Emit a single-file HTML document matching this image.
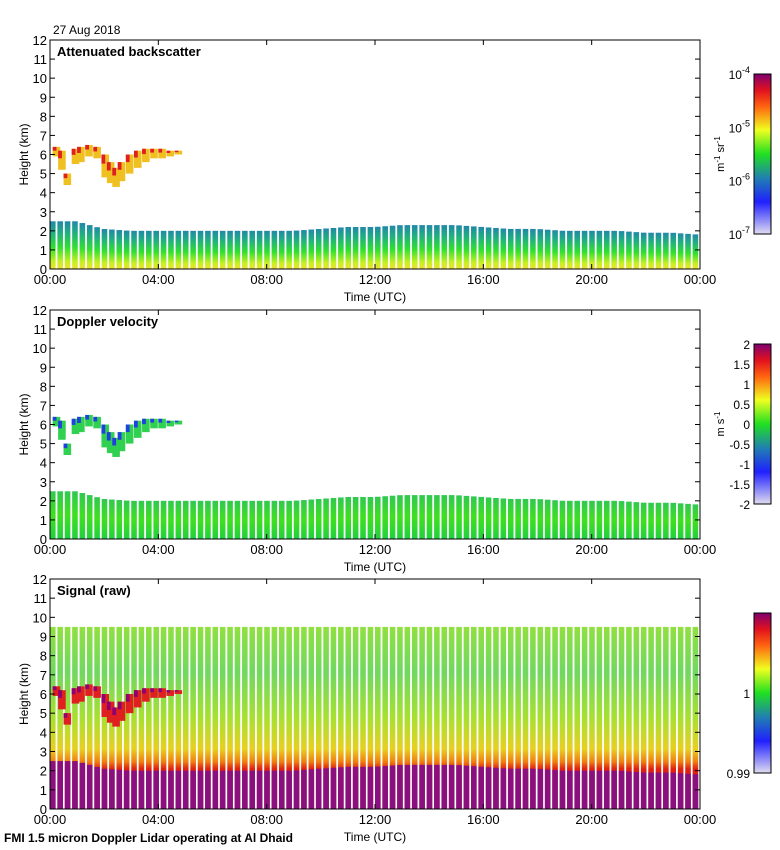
<!DOCTYPE html>
<html><head><meta charset="utf-8"><style>
body{margin:0;background:#fff;}
svg{display:block;font-family:"Liberation Sans",sans-serif;}
</style></head><body>
<svg id="c" width="780" height="850" xmlns="http://www.w3.org/2000/svg">
<defs>
<linearGradient id="gBs" x1="0" y1="1" x2="0" y2="0">
<stop offset="0" stop-color="#f0e030"/><stop offset="0.15" stop-color="#c8f020"/><stop offset="0.45" stop-color="#30e030"/><stop offset="0.75" stop-color="#20b080"/><stop offset="1" stop-color="#2088a8"/>
</linearGradient>
<linearGradient id="gDv" x1="0" y1="1" x2="0" y2="0">
<stop offset="0" stop-color="#20d040"/><stop offset="0.5" stop-color="#40e020"/><stop offset="1" stop-color="#30c850"/>
</linearGradient>
<linearGradient id="gSg" x1="0" y1="1" x2="0" y2="0">
<stop offset="0" stop-color="#d02010"/><stop offset="0.22" stop-color="#e02010"/><stop offset="0.26" stop-color="#f08010"/><stop offset="0.33" stop-color="#e8d020"/><stop offset="0.5" stop-color="#a8e030"/><stop offset="0.75" stop-color="#70d860"/><stop offset="1" stop-color="#90e040"/>
</linearGradient>
<linearGradient id="cb1" x1="0" y1="1" x2="0" y2="0">
<stop offset="0" stop-color="#e0dcf0"/><stop offset="0.2" stop-color="#2020ff"/><stop offset="0.35" stop-color="#2080b0"/><stop offset="0.5" stop-color="#20e020"/><stop offset="0.65" stop-color="#f0ff20"/><stop offset="0.8" stop-color="#ff6010"/><stop offset="0.9" stop-color="#e01020"/><stop offset="1" stop-color="#800070"/>
</linearGradient>
</defs>
<g id="root"></g>
</svg>
<script>
const timeTicks=["00:00","04:00","08:00","12:00","16:00","20:00","00:00"];
const heightTicks=[0,1,2,3,4,5,6,7,8,9,10,11,12];
// boundary-layer top (km) at hourly points 0..24
const blTop=[2.5,2.5,2.1,2.0,2.0,2.0,2.0,2.0,2.0,2.0,2.1,2.2,2.2,2.3,2.3,2.3,2.2,2.1,2.1,2.0,2.0,2.0,1.9,1.9,1.8];
// elevated cloud segments: hour, base km, top km
const cloudHour=[0.1,0.3,0.5,0.8,1.0,1.3,1.6,1.9,2.1,2.3,2.5,2.8,3.1,3.4,3.7,4.0,4.3,4.6];
const cloudBase=[5.9,5.2,4.4,5.5,5.6,5.9,5.8,4.8,4.5,4.3,4.6,5.0,5.3,5.6,5.8,5.8,5.9,6.0];
const cloudTop=[6.4,6.2,5.0,6.3,6.4,6.5,6.4,6.0,5.6,5.3,5.6,6.0,6.2,6.3,6.3,6.3,6.2,6.2];
const sigTop=9.5;
const cbLabels1=["-4","-5","-6","-7"];
const cbLabels2=["2","1.5","1","0.5","0","-0.5","-1","-1.5","-2"];
const cbLabels3=["1","0.99"];
const NS="http://www.w3.org/2000/svg";
const root=document.getElementById('root');
function mk(t,a,p){const e=document.createElementNS(NS,t);for(const k in a)e.setAttribute(k,a[k]);(p||root).appendChild(e);return e;}
const X0=50,X1=700;
const xs=h=>X0+h/24*(X1-X0);
const panels=[{top:40,bot:269,title:"Attenuated backscatter",fill:"url(#gBs)",cloud:["#f0c020","#e02020"],name:"backscatter"},
{top:310,bot:539,title:"Doppler velocity",fill:"url(#gDv)",cloud:["#30d050","#2040e0"],name:"velocity"},
{top:579,bot:809,title:"Signal (raw)",fill:"url(#gSg)",cloud:["#e02020","#900070"],name:"signal"}];
function blAt(h){const i=Math.floor(h),f=h-i;const a=blTop[Math.min(i,24)],b=blTop[Math.min(i+1,24)];return a+(b-a)*f;}
panels.forEach((p,pi)=>{
 const g=mk('g',{});
 
 
 const ys=k=>p.bot-k/12*(p.bot-p.top);
 const N=88,w=(X1-X0)/N;
 for(let i=0;i<N;i++){
  const h=(i+0.5)/N*24;
  const topK=pi==2?sigTop:blAt(h);
  const r=mk('rect',{x:X0+i*w,y:ys(topK),width:w-1.8,height:ys(0)-ys(topK),fill:p.fill},g);
  
  
  if(pi==2){const b=mk('rect',{x:X0+i*w,y:ys(blAt(h)),width:w-1.8,height:ys(0)-ys(blAt(h)),fill:"#8a1080"},g);
   
   }
 }
 for(let i=0;i<cloudHour.length;i++){
  const c=mk('rect',{x:xs(cloudHour[i]),y:ys(cloudTop[i]),width:(X1-X0)/24*0.28,height:ys(cloudBase[i])-ys(cloudTop[i]),fill:p.cloud[0]},g);
  
  
  const c2=mk('rect',{x:xs(cloudHour[i]),y:ys(cloudTop[i]),width:(X1-X0)/24*0.14,height:(ys(cloudBase[i])-ys(cloudTop[i]))*0.4,fill:p.cloud[1]},g);
  
  
 }
 const fr=mk('rect',{x:X0,y:p.top,width:X1-X0,height:p.bot-p.top,fill:"none",stroke:"#000","stroke-width":1},g);
 
 
 heightTicks.forEach(k=>{
  mk('line',{x1:X0,x2:X0+5,y1:ys(k),y2:ys(k),stroke:"#000"},g);
  mk('line',{x1:X1,x2:X1-5,y1:ys(k),y2:ys(k),stroke:"#000"},g);
  const t=mk('text',{x:X0-3,y:ys(k)+5,"font-size":13,"text-anchor":"end"},g);t.textContent=k;
  
  
 });
 timeTicks.forEach((s,i)=>{
  const x=xs(i*4);
  mk('line',{x1:x,x2:x,y1:p.bot,y2:p.bot-5,stroke:"#000"},g);
  mk('line',{x1:x,x2:x,y1:p.top,y2:p.top+5,stroke:"#000"},g);
  const t=mk('text',{x:x,y:p.bot+15,"font-size":13,"text-anchor":"middle"},g);t.textContent=s;
  
  
 });
 const xt=mk('text',{x:375,y:p.bot+32,"font-size":12,"text-anchor":"middle"},g);xt.textContent="Time (UTC)";
 
 
 const yt=mk('text',{x:28,y:(p.top+p.bot)/2,"font-size":12,"text-anchor":"middle",transform:`rotate(-90 28 ${(p.top+p.bot)/2})`},g);yt.textContent="Height (km)";
 
 
 const tt=mk('text',{x:57,y:p.top+16,"font-size":13,"font-weight":"bold"},g);tt.textContent=p.title;
 
 
 const cbT=p.top+34,cbB=p.top+194;
 const cb=mk('rect',{x:754,y:cbT,width:17,height:cbB-cbT,fill:"url(#cb1)",stroke:"#000"},g);
 
 
 const labs=pi==0?cbLabels1:pi==1?cbLabels2:cbLabels3;
 labs.forEach((l,i)=>{
  let y;
  if(pi==2) y=i==0?(cbT+cbB)/2:cbB;
  else y=cbT+i/(labs.length-1)*(cbB-cbT);
  const t=mk('text',{x:750,y:y+5,"font-size":12,"text-anchor":"end"},g);
  if(pi==0){t.textContent="10";const s=mk('tspan',{dy:-6,"font-size":9},t);s.textContent=l;}
  else t.textContent=l;
  
  
 });
 if(pi<2){
  const cy=(cbT+cbB)/2;
  const u=mk('text',{x:724,y:cy,"font-size":11,"text-anchor":"middle",transform:`rotate(-90 724 ${cy})`},g);
  if(pi==0){u.appendChild(document.createTextNode("m"));const a=mk('tspan',{dy:-4,"font-size":8},u);a.textContent="-1";const b=mk('tspan',{dy:4},u);b.textContent=" sr";const c=mk('tspan',{dy:-4,"font-size":8},u);c.textContent="-1";}
  else{u.appendChild(document.createTextNode("m s"));const a=mk('tspan',{dy:-4,"font-size":8},u);a.textContent="-1";}
  
  
 }
});
const d=mk('text',{x:53,y:34,"font-size":12});d.textContent="27 Aug 2018";


const f=mk('text',{x:4,y:842,"font-size":12,"font-weight":"bold"});f.textContent="FMI 1.5 micron Doppler Lidar operating at Al Dhaid";


</script>
</body></html>
